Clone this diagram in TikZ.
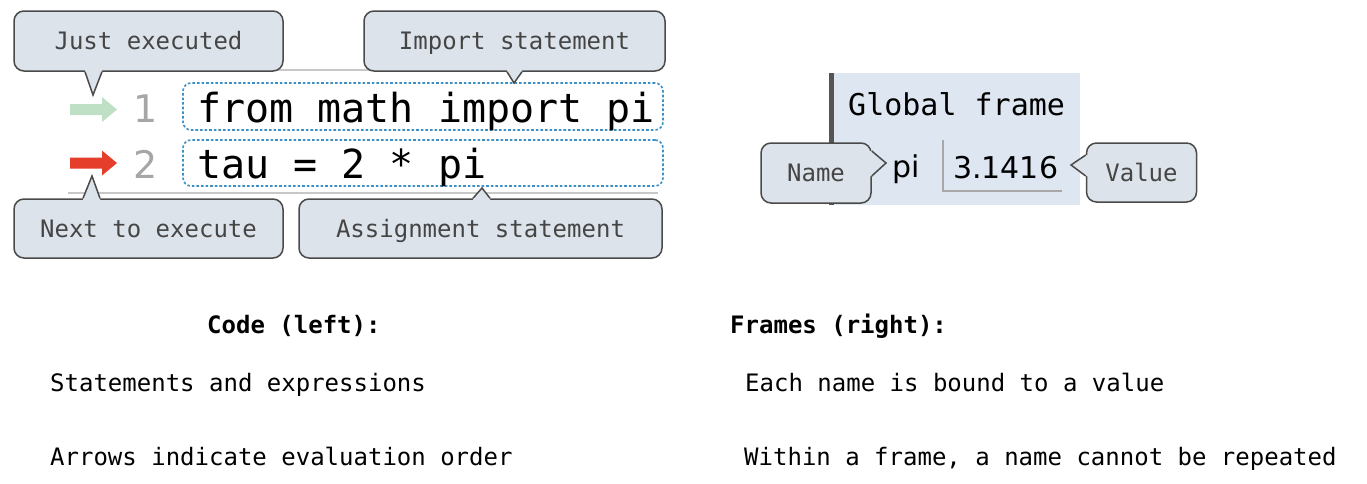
\documentclass[tikz,border=0pt]{standalone}
\usepackage{fontspec}
\setmonofont{DejaVu Sans Mono}
\setsansfont{DejaVu Sans}
\usetikzlibrary{calc}

\definecolor{cfill}{HTML}{DDE3EA}
\definecolor{cline}{HTML}{4A4A4A}
\definecolor{ctext}{HTML}{454545}
\definecolor{framebg}{HTML}{DDE6F1}
\definecolor{framebar}{HTML}{555555}
\definecolor{rulegray}{HTML}{C8C8C8}
\definecolor{valgray}{HTML}{A8A8A8}
\definecolor{linenum}{HTML}{A6A6A6}
\definecolor{dashblue}{HTML}{3D8FC4}
\definecolor{donegreen}{HTML}{BFE0C4}
\definecolor{nextred}{HTML}{E53E2A}

\newcommand\callfont{\ttfamily\fontsize{24}{28}\selectfont}
\newcommand\notefont{\ttfamily\fontsize{24}{28}\selectfont}
\newcommand\codefont{\ttfamily\fontsize{40}{44}\selectfont}

% pointer of a callout: base point, tip, base point, offset into the box
\newcommand\callptr[4]{%
  \fill[cfill] ($#1+#4$) -- #1 -- #2 -- #3 -- ($#3+#4$) -- cycle;
  \draw[ptrline] #1 -- #2 -- #3;}

\tikzset{
  callout/.style={draw=cline, fill=cfill, line width=1.5pt, rounded corners=10pt,
    font=\callfont, text=ctext, inner sep=0pt, text height=17.5pt, text depth=0pt},
  ptrline/.style={draw=cline, line width=1.5pt, line join=miter},
  codebox/.style={draw=dashblue, line width=1.6pt, dash pattern=on 2.6pt off 2pt,
    rounded corners=8pt, minimum width=480pt, inner sep=0pt},
  codetext/.style={anchor=base west, inner sep=0pt, font=\codefont},
  lineno/.style={anchor=base, font=\sffamily\fontsize{38}{40}\selectfont, text=linenum, inner sep=0pt},
  note/.style={anchor=base west, font=\notefont, inner sep=0pt},
  heading/.style={anchor=base west, font=\notefont\bfseries, inner sep=0pt},
}

\begin{document}
\begin{tikzpicture}[x=1pt, y=-1pt]
\useasboundingbox (0,0) rectangle (1367,483);

% rules above and below the code
\draw[rulegray, line width=1.5pt] (68,70) -- (658,70);
\draw[rulegray, line width=1.5pt] (68,193) -- (658,193);

% execution arrows
\fill[donegreen] (70,104) -- (102,104) -- (102,97) -- (117,109.5) -- (102,122) -- (102,115) -- (70,115) -- cycle;
\fill[nextred] (70,157.5) -- (102,157.5) -- (102,150.5) -- (117,163) -- (102,175.5) -- (102,168.5) -- (70,168.5) -- cycle;
\coordinate (done) at (93,109.5);
\coordinate (next) at (92,163);

% line numbers
\node[lineno] (n1) at (146,122) {1};
\node[lineno] (n2) at (146,178) {2};

% code lines
\node[codebox, minimum height=47pt] (box1) at (423,106.5) {};
\node[codebox, minimum height=46pt] (box2) at (423,163) {};
\node[codetext] (code1) at (197,122) {from math import pi};
\node[codetext] (code2) at (197,178) {tau = 2 * pi};

% callouts for the code
\node[callout, minimum width=269pt, minimum height=60pt] (just) at (148.5,41) {Just executed};
\node[callout, minimum width=301pt, minimum height=60pt] (imp) at (514.5,41) {Import statement};
\node[callout, minimum width=269pt, minimum height=59pt] (nxt) at (148.5,228.5) {Next to execute};
\node[callout, minimum width=363pt, minimum height=59pt] (asg) at (480.5,228.5) {Assignment statement};

\callptr{(85,0 |- just.south)}{(93,95)}{(102,0 |- just.south)}{(0,-3)}
\callptr{(507,0 |- imp.south)}{(514,83)}{(522,0 |- imp.south)}{(0,-3)}
\callptr{(83,0 |- nxt.north)}{(92,176)}{(100,0 |- nxt.north)}{(0,3)}
\callptr{(473,0 |- asg.north)}{(482,188)}{(490,0 |- asg.north)}{(0,3)}

% global frame
\fill[framebg] (830,73) rectangle (1080,205);
\fill[framebar] (829,73) rectangle (834,205);
\node[anchor=base west, inner sep=0pt, font=\ttfamily\fontsize{30}{34}\selectfont] (gf) at (848,115) {Global frame};
\node[anchor=base west, inner sep=0pt, font=\sffamily\fontsize{30}{34}\selectfont] (name) at (892,177) {pi};
\node[anchor=base west, inner sep=0pt, font=\sffamily\fontsize{30}{34}\selectfont] (value) at (953,178) {3.1416};
\draw[valgray, line width=1.5pt] (943,140) -- (943,191) -- (1062,191);

\node[callout, minimum width=110pt, minimum height=60pt] (nm) at (816,173) {Name};
\node[callout, minimum width=110pt, minimum height=59pt] (val) at (1141.5,172.5) {Value};
\callptr{(nm.east |- 0,151)}{(886,163)}{(nm.east |- 0,176)}{(-3,0)}
\callptr{(val.west |- 0,155)}{(1071,165)}{(val.west |- 0,176)}{(3,0)}

% notes
\node[heading] (hcode) at (207,333) {Code (left):};
\node[note] (c1) at (50,391) {Statements and expressions};
\node[note] (c2) at (50,465) {Arrows indicate evaluation order};
\node[heading] (hframe) at (730,333) {Frames (right):};
\node[note] (f1) at (745,391) {Each name is bound to a value};
\node[note] (f2) at (744,465) {Within a frame, a name cannot be repeated};
\end{tikzpicture}
\end{document}
